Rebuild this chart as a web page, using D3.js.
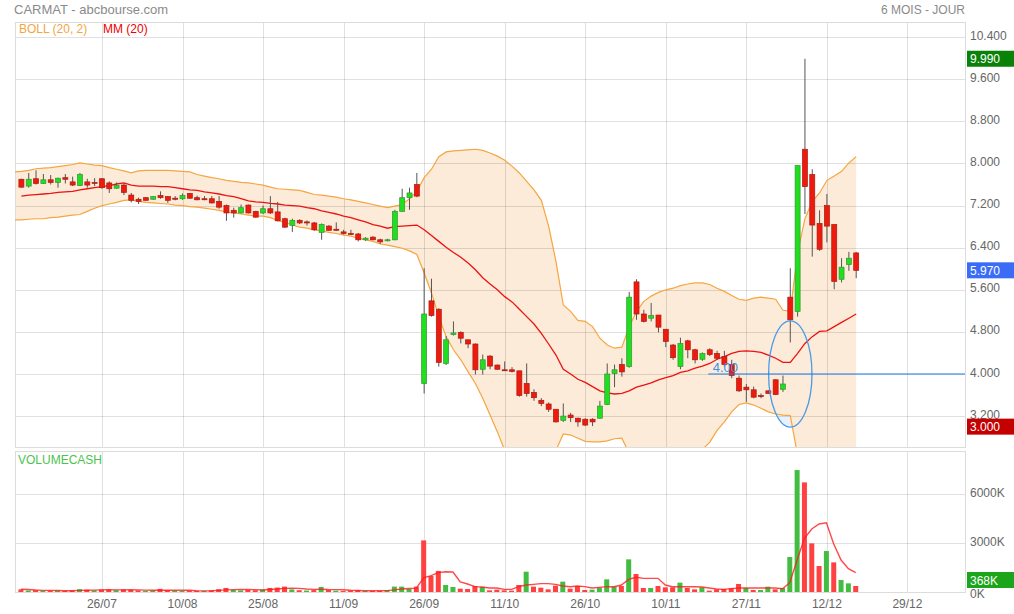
<!DOCTYPE html>
<html><head><meta charset="utf-8">
<script src="https://cdn.jsdelivr.net/npm/d3@7"></script>
<style>body{margin:0;background:#fff}svg{display:block}text{font-family:"Liberation Sans",Arial,sans-serif}</style>
</head><body><svg id="c" width="1014" height="614"></svg>
<script>
// ---- Data (index 0 = first trading day shown, 11/07) ----
const opens  = [7.70,7.57,7.71,7.62,7.69,7.64,7.73,7.65,7.58,7.65, 7.64,7.71,7.63,7.53,7.59,7.40,7.32,7.35,7.32,7.39, 7.37,7.34,7.33,7.43,7.35,7.33,7.33,7.28,7.20,7.11, 7.06,7.21,7.09,7.06,7.14,7.08,6.95,6.82,6.92,6.89, 6.87,6.69,6.81,6.75,6.70,6.67,6.66,6.55,6.60,6.55, 6.53,6.55,7.09,7.35,7.60,3.82,5.39,5.23,4.20,4.75, 4.79,4.65,4.57,4.09,4.34,4.17,4.08,4.08,4.06,3.82, 3.65,3.50,3.43,3.33,3.12,3.22,3.16,3.14,3.14,3.16, 3.42,4.01,4.18,4.14,5.75,5.14,5.06,5.12,4.85,4.55, 4.14,4.63,4.46,4.28,4.46,4.39,4.33,4.18,3.92,3.75, 3.70,3.59,3.68,3.89,3.71,5.46,5.19,8.27,7.79,6.86, 7.20,6.84,5.80,6.08,6.30];
const highs  = [7.71,7.82,7.87,7.80,7.78,7.73,7.80,7.75,7.82,7.71, 7.72,7.72,7.66,7.64,7.63,7.44,7.35,7.36,7.38,7.47, 7.38,7.38,7.43,7.44,7.39,7.38,7.38,7.38,7.22,7.16, 7.22,7.22,7.10,7.20,7.38,7.27,6.97,6.95,6.94,6.92, 6.89,6.86,6.83,6.88,6.74,6.74,6.68,6.60,6.62,6.57, 6.57,7.12,7.52,7.54,7.82,6.01,5.81,5.25,4.72,5.00, 4.81,4.65,4.58,4.37,4.36,4.18,4.24,4.13,4.06,4.20, 3.71,3.54,3.46,3.33,3.44,3.26,3.17,3.16,3.16,3.49, 4.20,4.18,4.30,5.56,5.80,5.22,5.35,5.12,4.85,4.57, 4.69,4.65,4.48,4.41,4.49,4.44,4.44,4.27,3.97,3.81, 3.76,3.63,3.69,3.90,3.97,6.01,7.96,9.99,7.89,7.11, 7.42,6.84,6.20,6.32,6.32];
const lows   = [7.54,7.54,7.60,7.61,7.60,7.54,7.62,7.57,7.57,7.54, 7.57,7.52,7.44,7.52,7.40,7.26,7.23,7.29,7.31,7.33, 7.25,7.30,7.31,7.33,7.30,7.30,7.24,7.14,6.91,6.97, 7.05,7.05,6.97,7.04,7.04,6.90,6.78,6.70,6.85,6.82, 6.72,6.55,6.72,6.72,6.65,6.64,6.52,6.53,6.54,6.47, 6.52,6.54,7.08,7.12,7.36,3.63,5.09,4.14,4.17,4.73, 4.58,4.49,3.99,3.99,4.09,4.08,4.06,4.03,3.57,3.57, 3.49,3.39,3.28,3.08,3.09,3.09,3.00,3.01,3.01,3.15, 3.41,3.75,3.95,4.12,5.03,4.98,5.00,4.79,4.51,4.27, 4.09,4.30,4.20,4.25,4.34,4.27,4.14,3.92,3.66,3.47, 3.54,3.54,3.62,3.60,3.66,4.60,5.09,7.04,6.23,6.34, 6.50,5.61,5.74,5.96,5.82];
const closes = [7.55,7.70,7.62,7.69,7.64,7.72,7.70,7.59,7.79,7.59, 7.63,7.54,7.52,7.58,7.45,7.30,7.28,7.30,7.37,7.35, 7.30,7.32,7.39,7.34,7.31,7.32,7.25,7.17,7.06,7.06, 7.16,7.06,6.98,7.14,7.06,6.91,6.79,6.92,6.87,6.87, 6.74,6.84,6.73,6.74,6.67,6.66,6.55,6.58,6.55,6.51, 6.55,7.09,7.35,7.44,7.38,5.14,5.11,4.22,4.65,4.78, 4.68,4.57,4.08,4.27,4.15,4.09,4.07,4.05,3.59,3.63, 3.55,3.44,3.33,3.09,3.20,3.17,3.09,3.03,3.09,3.39, 4.00,4.08,4.04,5.46,5.14,5.00,5.11,4.89,4.62,4.31, 4.58,4.46,4.27,4.39,4.37,4.30,4.18,3.97,3.68,3.70, 3.56,3.58,3.63,3.61,3.81,5.03,7.96,7.56,6.83,6.37, 6.81,5.76,6.03,6.20,5.97];
// Volume (thousand euros) and its moving average line
const volumes = [160,90,110,70,80,90,70,100,170,140, 90,150,150,110,160,130,100,70,90,190, 110,80,60,80,60,70,100,170,250,130, 100,130,110,150,250,270,330,160,110,90, 120,310,120,80,60,80,110,70,60,70, 120,330,330,190,330,3160,980,1290,428,306, 204,184,367,306,102,143,102,82,428,1244, 326,265,163,388,632,204,367,122,143,265, 775,326,367,1999,1102,245,245,367,286,286, 571,245,163,286,82,163,184,224,490,245, 122,122,326,163,245,2142,7466,6712,2978,1591, 2509,1816,734,530,368];
const volMA = [170,150,120,100,100,90,80,80,100,110, 115,130,140,130,130,140,130,115,110,115, 110,110,105,105,80,70,75,100,130,145, 150,155,145,125,150,180,220,230,225,180, 160,165,150,145,140,110,95,80,75,80, 85,130,180,210,240,870,1000,1190,1244,1224, 612,490,326,306,245,245,163,163,326,428, 469,510,510,469,367,326,367,326,245,286, 326,326,428,775,898,836,836,836,428,326, 326,326,326,306,245,184,163,204,245,245, 245,245,245,245,204,571,1958,3284,3856,4162, 4243,2938,1958,1428,1183];
// Bollinger (20,2): bands start one day before index 0 (index -1)
const bollUpper = [7.84, 7.85,7.87,7.90,7.91,7.92,7.94,7.96,7.98,8.01,7.99, 7.97,7.96,7.92,7.89,7.86,7.82,7.86,7.87,7.87,7.87, 7.87,7.86,7.85,7.84,7.79,7.76,7.73,7.71,7.68,7.66, 7.64,7.63,7.61,7.59,7.55,7.52,7.51,7.50,7.49,7.45, 7.41,7.40,7.38,7.36,7.33,7.31,7.28,7.25,7.22,7.19, 7.16,7.19,7.22,7.33,7.47,7.73,7.89,8.13,8.22,8.24, 8.25,8.26,8.27,8.25,8.20,8.14,8.06,7.95,7.82,7.66, 7.50,7.30,6.81,6.14,5.31,5.19,5.02,5.00,4.90,4.68, 4.55,4.49,4.51,4.90,5.19,5.38,5.48,5.55,5.60,5.63, 5.68,5.71,5.73,5.73,5.70,5.63,5.57,5.49,5.42,5.40, 5.44,5.46,5.44,5.42,5.21,5.19,6.30,6.95,7.28,7.44, 7.68,7.76,7.85,8.01,8.13];
const bollLower = [6.93, 6.93,6.94,6.95,6.95,6.97,6.98,7.00,7.02,7.03,7.09, 7.15,7.20,7.23,7.26,7.30,7.31,7.28,7.26,7.25,7.24, 7.23,7.21,7.20,7.18,7.17,7.15,7.13,7.11,7.08,7.06, 7.04,7.02,7.00,7.00,6.97,6.92,6.88,6.83,6.79,6.77, 6.74,6.72,6.69,6.67,6.64,6.62,6.58,6.55,6.52,6.47, 6.45,6.42,6.39,6.34,6.27,5.92,5.54,5.09,4.71,4.46, 4.27,4.04,3.82,3.54,3.22,2.90,2.55,2.45,2.40,2.35, 2.30,2.30,2.40,2.55,2.86,2.84,2.78,2.72,2.71,2.71, 2.73,2.77,2.78,2.49,2.31,2.20,2.18,2.23,2.26,2.31, 2.38,2.41,2.49,2.57,2.70,2.93,3.09,3.28,3.42,3.45, 3.41,3.35,3.28,3.24,3.22,3.21,2.45,2.20,2.14,2.18, 1.96,2.04,2.11,2.11,2.15];
const mm20 = [7.38,7.40,7.41,7.42,7.43,7.45,7.46,7.47,7.50,7.52, 7.54,7.56,7.58,7.61,7.63,7.59,7.57,7.57,7.57,7.56, 7.56,7.54,7.52,7.50,7.49,7.46,7.44,7.42,7.39,7.37, 7.33,7.29,7.27,7.26,7.24,7.23,7.21,7.20,7.19,7.16, 7.14,7.10,7.07,7.04,7.00,6.97,6.93,6.89,6.84,6.81, 6.77,6.80,6.81,6.82,6.83,6.74,6.63,6.52,6.41,6.31, 6.22,6.11,5.98,5.83,5.71,5.60,5.47,5.37,5.23,5.09, 4.95,4.77,4.57,4.36,4.09,4.00,3.90,3.84,3.76,3.68, 3.64,3.62,3.63,3.68,3.75,3.79,3.83,3.89,3.93,3.97, 4.03,4.06,4.11,4.15,4.20,4.28,4.33,4.39,4.43,4.44, 4.43,4.41,4.36,4.30,4.22,4.22,4.39,4.58,4.71,4.81, 4.82,4.90,4.98,5.06,5.14];
// Axes
const priceTicks = [3.2,4.0,4.8,5.6,6.4,7.2,8.0,8.8,9.6,10.4];
const volTicks = [3000,6000];
const dateTickIdx = [11,22,33,44,55,66,77,88,99,110,121];
const dateTickLabels = ['26/07','10/08','25/08','11/09','26/09','11/10','26/10','10/11','27/11','12/12','29/12'];
// User annotations (level line + ellipse)
const annotLevel = 4.0, annotLineStartIdx = 93.8, annotText = '4.00';
const ellipseIdx = 105, ellipseVal = 4.0, ellipseIdxR = 2.96, ellipseValR = 1.01;

// ---- Layout ----
const L = 15, R = 965, MT = 22, MB = 447, VT = 451, VB = 592;
const svg = d3.select('#c');
const x = d3.scaleLinear().domain([0, 114]).range([21.4, 856.2]);
const y = d3.scaleLinear().domain([2.613, 10.688]).range([MB, MT]);
const yv = d3.scaleLinear().domain([0, 8633]).range([VB, VT]);

const defs = svg.append('defs');
defs.append('clipPath').attr('id','cm').append('rect').attr('x',L).attr('y',MT).attr('width',R-L).attr('height',MB-MT);
defs.append('clipPath').attr('id','cv').append('rect').attr('x',L).attr('y',VT).attr('width',R-L).attr('height',VB-VT);

// Titles
svg.append('text').attr('x',14).attr('y',13.5).attr('font-size',13).attr('fill','#8a8a8a').text('CARMAT - abcbourse.com');
svg.append('text').attr('x',965).attr('y',13.5).attr('text-anchor','end').attr('font-size',12).attr('fill','#8a8a8a').text('6 MOIS - JOUR');

const gm = svg.append('g').attr('clip-path','url(#cm)');
// Ellipse fill under band
gm.append('ellipse').attr('cx',x(ellipseIdx)).attr('cy',y(ellipseVal))
  .attr('rx',x(ellipseIdx+ellipseIdxR)-x(ellipseIdx)).attr('ry',y(ellipseVal-ellipseValR)-y(ellipseVal))
  .attr('fill','#e8f2fc');
// Bollinger band fill
const bandData = bollUpper.map((u,k)=>({i:k-1,u:u,l:bollLower[k]}));
gm.append('path').datum(bandData)
  .attr('d', d3.area().x(d=>x(d.i)).y0(d=>y(d.l)).y1(d=>y(d.u)))
  .attr('fill','#fcebd8');
// Grid (main)
const grid = svg.append('g');
priceTicks.forEach(v=>{
  grid.append('line').attr('x1',L).attr('x2',R).attr('y1',Math.round(y(v))+0.5).attr('y2',Math.round(y(v))+0.5)
    .attr('stroke','rgba(0,0,0,0.12)');
});
dateTickIdx.forEach(i=>{
  const xx = Math.round(x(i))+0.5;
  grid.append('line').attr('x1',xx).attr('x2',xx).attr('y1',MT).attr('y2',MB).attr('stroke','rgba(0,0,0,0.12)');
  grid.append('line').attr('x1',xx).attr('x2',xx).attr('y1',VT).attr('y2',VB).attr('stroke','rgba(0,0,0,0.12)');
});
volTicks.forEach(v=>{
  grid.append('line').attr('x1',L).attr('x2',R).attr('y1',Math.round(yv(v))+0.5).attr('y2',Math.round(yv(v))+0.5).attr('stroke','rgba(0,0,0,0.12)');
});
// Panel frames
svg.append('rect').attr('x',L+0.5).attr('y',MT+0.5).attr('width',R-L).attr('height',MB-MT).attr('fill','none').attr('stroke','#dcdcdc');
svg.append('rect').attr('x',L+0.5).attr('y',VT+0.5).attr('width',R-L).attr('height',VB-VT).attr('fill','none').attr('stroke','#dcdcdc');

// Band lines
const gl = svg.append('g').attr('clip-path','url(#cm)');
gl.append('path').datum(bandData).attr('d',d3.line().x(d=>x(d.i)).y(d=>y(d.u))).attr('fill','none').attr('stroke','#f6a540').attr('stroke-width',1.2);
gl.append('path').datum(bandData).attr('d',d3.line().x(d=>x(d.i)).y(d=>y(d.l))).attr('fill','none').attr('stroke','#f6a540').attr('stroke-width',1.2);
gl.append('path').datum(mm20).attr('d',d3.line().x((d,i)=>x(i)).y(d=>y(d))).attr('fill','none').attr('stroke','#ee1111').attr('stroke-width',1.3);

// Candles
const cd = closes.map((c,i)=>({i:i,o:opens[i],h:highs[i],l:lows[i],c:c}));
const gc = gl.append('g');
gc.selectAll('line.w').data(cd).join('line').attr('class','w')
  .attr('x1',d=>x(d.i)).attr('x2',d=>x(d.i)).attr('y1',d=>y(d.h)).attr('y2',d=>y(d.l))
  .attr('stroke','#555').attr('stroke-width',1);
gc.selectAll('rect').data(cd).join('rect')
  .attr('x',d=>x(d.i)-2.5).attr('width',5)
  .attr('y',d=>y(Math.max(d.o,d.c)))
  .attr('height',d=>Math.max(1,Math.abs(y(d.o)-y(d.c))))
  .attr('fill',d=>d.c>=d.o?'#1fdf1f':'#ef1a0e')
  .attr('stroke',d=>d.c>=d.o?'#379437':'#a81a10').attr('stroke-width',0.7);

// Annotations
svg.append('line').attr('x1',x(annotLineStartIdx)).attr('x2',R).attr('y1',y(annotLevel)).attr('y2',y(annotLevel))
  .attr('stroke','#1a7ae8').attr('stroke-width',1.1);
svg.append('text').attr('x',x(annotLineStartIdx)+4.5).attr('y',y(annotLevel)-2).attr('font-size',13).attr('fill','#3d8fe8').text(annotText);
gl.append('ellipse').attr('cx',x(ellipseIdx)).attr('cy',y(ellipseVal))
  .attr('rx',x(ellipseIdx+ellipseIdxR)-x(ellipseIdx)).attr('ry',y(ellipseVal-ellipseValR)-y(ellipseVal))
  .attr('fill','none').attr('stroke','#4a9ae8').attr('stroke-width',1.3);

// Legend
svg.append('text').attr('x',19).attr('y',33).attr('font-size',12).attr('fill','#f5a540').text('BOLL (20, 2)');
svg.append('text').attr('x',103).attr('y',33).attr('font-size',12).attr('fill','#ee0000').text('MM (20)');

// Price axis labels
priceTicks.forEach(v=>{
  svg.append('text').attr('x',970).attr('y',y(v)+2.5).attr('font-size',12).attr('fill','#666').text(d3.format('.3f')(v));
});
// Price markers (max high, last close, min low)
const markers = [
  {v:d3.max(highs), col:'#0a820a'},
  {v:closes[closes.length-1], col:'#3a6cf6'},
  {v:d3.min(lows), col:'#c40000'}
];
markers.forEach(m=>{
  svg.append('rect').attr('x',967).attr('y',y(m.v)-8).attr('width',47).attr('height',16).attr('fill',m.col);
  svg.append('text').attr('x',970).attr('y',y(m.v)+4.5).attr('font-size',12).attr('fill','#fff').text(d3.format('.3f')(m.v));
});

// Volume panel
const gv = svg.append('g').attr('clip-path','url(#cv)');
gv.selectAll('rect').data(volumes).join('rect')
  .attr('x',(d,i)=>x(i)-3).attr('width',5)
  .attr('y',d=>yv(d)).attr('height',d=>VB-yv(d))
  .attr('fill',(d,i)=> (i>0 && closes[i]>=closes[i-1]) ? '#42bd42' : '#ff4141');
gv.append('path').datum(volMA).attr('d',d3.line().x((d,i)=>x(i)-0.5).y(d=>yv(d)))
  .attr('fill','none').attr('stroke','#ff1a1a').attr('stroke-opacity',0.8).attr('stroke-width',1.4);
svg.append('text').attr('x',18).attr('y',464).attr('font-size',12).attr('fill','#4cc44c').text('VOLUMECASH');
volTicks.forEach(v=>{
  svg.append('text').attr('x',970).attr('y',yv(v)+2.5).attr('font-size',12).attr('fill','#666').text(v+'K');
});
svg.append('text').attr('x',970).attr('y',yv(0)+6).attr('font-size',12).attr('fill','#666').text('0K');
const lastVol = volumes[volumes.length-1];
const lastUp = closes[closes.length-1] >= closes[closes.length-2];
const vy = Math.min(yv(lastVol), VB-12);
svg.append('rect').attr('x',967).attr('y',vy-8).attr('width',47).attr('height',16).attr('fill', lastUp ? '#22a722' : '#1aa51a');
svg.append('text').attr('x',970).attr('y',vy+4.5).attr('font-size',12).attr('fill','#fff').text(lastVol+'K');

// Date labels
dateTickIdx.forEach((i,k)=>{
  svg.append('text').attr('x',x(i)).attr('y',608).attr('text-anchor','middle').attr('font-size',12).attr('fill','#666').text(dateTickLabels[k]);
});
</script></body></html>
